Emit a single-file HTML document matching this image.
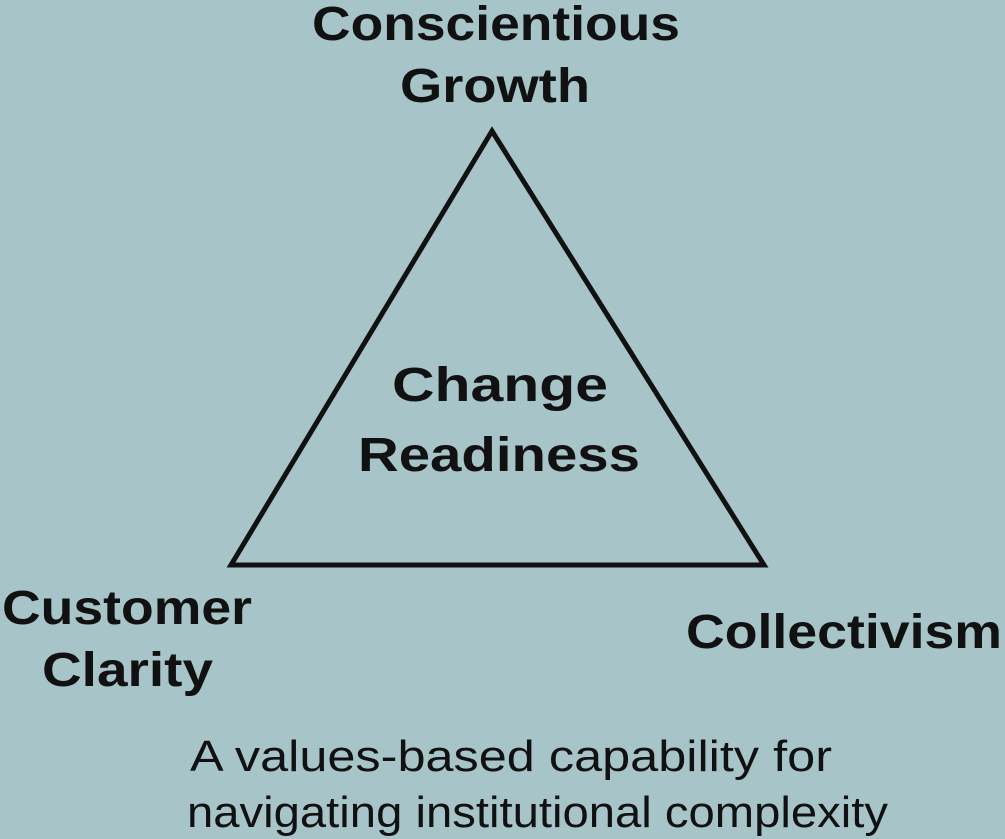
<!DOCTYPE html>
<html><head><meta charset="utf-8"><style>
html,body{margin:0;padding:0;background:#a7c5c8;}
svg{display:block}
</style></head><body>
<svg width="1005" height="839" viewBox="0 0 1005 839" xmlns="http://www.w3.org/2000/svg">
<rect width="1005" height="839" fill="#a7c5c8"/>
<polygon points="492,131 231,565 764,565" fill="none" stroke="#111" stroke-width="5" stroke-linejoin="miter"/>
<g font-family="Liberation Sans, sans-serif" font-weight="bold" fill="#111" font-size="48">
<text x="312" y="40" textLength="368" lengthAdjust="spacingAndGlyphs">Conscientious</text>
<text x="400" y="102" textLength="190" lengthAdjust="spacingAndGlyphs">Growth</text>
<text x="392" y="401" textLength="216" lengthAdjust="spacingAndGlyphs">Change</text>
<text x="358" y="471" textLength="282" lengthAdjust="spacingAndGlyphs">Readiness</text>
<text x="2" y="624" textLength="250" lengthAdjust="spacingAndGlyphs">Customer</text>
<text x="42" y="686" textLength="171" lengthAdjust="spacingAndGlyphs">Clarity</text>
<text x="686" y="648" textLength="316" lengthAdjust="spacingAndGlyphs">Collectivism</text>
</g>
<g font-family="Liberation Sans, sans-serif" fill="#111" font-size="44">
<text x="190" y="771" textLength="642" lengthAdjust="spacingAndGlyphs">A values-based capability for</text>
<text x="187" y="827" textLength="701" lengthAdjust="spacingAndGlyphs">navigating institutional complexity</text>
</g>
</svg>
</body></html>
